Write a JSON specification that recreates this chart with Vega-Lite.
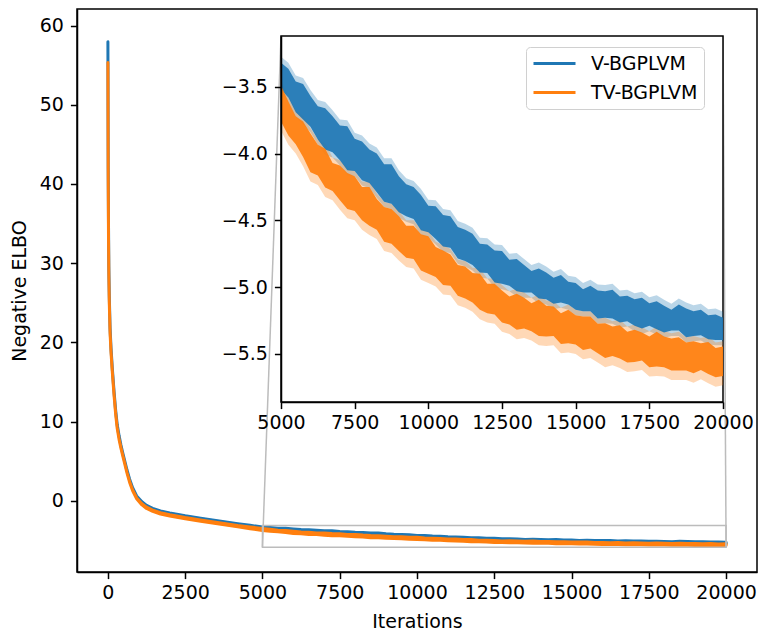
{
"$schema":"https://vega.github.io/schema/vega-lite/v6.json",
"width":680,"height":563,
"autosize":{"type":"none"},
"padding":{"left":77,"top":9,"right":2,"bottom":60},
"config":{"view":{"stroke":"#000","strokeWidth":1.5},"font":"DejaVu Sans",
"axis":{"domainColor":"#000","domainWidth":1.5,"tickColor":"#000","tickWidth":1.5,"tickSize":6.6,"labelFont":"DejaVu Sans","labelFontSize":19,"labelColor":"#000","titleFont":"DejaVu Sans","titleFontSize":19,"titleFontWeight":"normal","titleColor":"#000","grid":false,"labelFlush":false,"labelOverlap":false}},
"data":{"values":[
{"it":0,"model":"V-BGPLVM","dl":57.85,"dh":57.95,"bl":57.6,"bh":58.9},
{"it":5,"model":"V-BGPLVM","dl":48.95,"dh":49.05,"bl":48.8,"bh":49.3},
{"it":10,"model":"V-BGPLVM","dl":41.95,"dh":42.05,"bl":41.8,"bh":42.2},
{"it":20,"model":"V-BGPLVM","dl":34.45,"dh":34.55,"bl":34.3,"bh":34.7},
{"it":30,"model":"V-BGPLVM","dl":29.45,"dh":29.55,"bl":29.3,"bh":29.7},
{"it":45,"model":"V-BGPLVM","dl":25.75,"dh":25.85,"bl":25.6,"bh":26.0},
{"it":70,"model":"V-BGPLVM","dl":21.75,"dh":21.85,"bl":21.6,"bh":22.0},
{"it":100,"model":"V-BGPLVM","dl":19.25,"dh":19.35,"bl":19.1,"bh":19.5},
{"it":140,"model":"V-BGPLVM","dl":16.75,"dh":16.85,"bl":16.6,"bh":17.0},
{"it":200,"model":"V-BGPLVM","dl":13.65,"dh":13.75,"bl":13.5,"bh":13.9},
{"it":250,"model":"V-BGPLVM","dl":11.35,"dh":11.45,"bl":11.2,"bh":11.6},
{"it":300,"model":"V-BGPLVM","dl":9.55,"dh":9.65,"bl":9.4,"bh":9.8},
{"it":360,"model":"V-BGPLVM","dl":8.15,"dh":8.25,"bl":8.0,"bh":8.4},
{"it":420,"model":"V-BGPLVM","dl":6.95,"dh":7.05,"bl":6.8,"bh":7.2},
{"it":480,"model":"V-BGPLVM","dl":5.95,"dh":6.05,"bl":5.8,"bh":6.2},
{"it":550,"model":"V-BGPLVM","dl":4.85,"dh":4.95,"bl":4.7,"bh":5.1},
{"it":620,"model":"V-BGPLVM","dl":3.75,"dh":3.85,"bl":3.6,"bh":4.0},
{"it":700,"model":"V-BGPLVM","dl":2.65,"dh":2.75,"bl":2.5,"bh":2.9},
{"it":800,"model":"V-BGPLVM","dl":1.55,"dh":1.65,"bl":1.4,"bh":1.8},
{"it":930,"model":"V-BGPLVM","dl":0.5,"dh":0.6,"bl":0.35,"bh":0.75},
{"it":1100,"model":"V-BGPLVM","dl":-0.28,"dh":-0.12,"bl":-0.4,"bh":0},
{"it":1250,"model":"V-BGPLVM","dl":-0.74,"dh":-0.58,"bl":-0.86,"bh":-0.46},
{"it":1450,"model":"V-BGPLVM","dl":-1.12,"dh":-0.96,"bl":-1.24,"bh":-0.84},
{"it":1700,"model":"V-BGPLVM","dl":-1.45,"dh":-1.29,"bl":-1.57,"bh":-1.17},
{"it":2000,"model":"V-BGPLVM","dl":-1.71,"dh":-1.55,"bl":-1.83,"bh":-1.43},
{"it":2500,"model":"V-BGPLVM","dl":-2.06,"dh":-1.9,"bl":-2.18,"bh":-1.78},
{"it":3000,"model":"V-BGPLVM","dl":-2.36,"dh":-2.2,"bl":-2.48,"bh":-2.08},
{"it":3600,"model":"V-BGPLVM","dl":-2.71,"dh":-2.55,"bl":-2.83,"bh":-2.43},
{"it":4200,"model":"V-BGPLVM","dl":-3.06,"dh":-2.9,"bl":-3.18,"bh":-2.78},
{"it":4600,"model":"V-BGPLVM","dl":-3.29,"dh":-3.11,"bl":-3.33,"bh":-3.06},
{"it":5000,"model":"V-BGPLVM","dl":-3.52,"dh":-3.32,"bl":-3.56,"bh":-3.275},
{"it":5250,"model":"V-BGPLVM","dl":-3.58,"dh":-3.365,"bl":-3.62,"bh":-3.32},
{"it":5500,"model":"V-BGPLVM","dl":-3.69,"dh":-3.46,"bl":-3.73,"bh":-3.415},
{"it":5750,"model":"V-BGPLVM","dl":-3.745,"dh":-3.48,"bl":-3.785,"bh":-3.435},
{"it":6000,"model":"V-BGPLVM","dl":-3.8,"dh":-3.57,"bl":-3.84,"bh":-3.525},
{"it":6250,"model":"V-BGPLVM","dl":-3.895,"dh":-3.645,"bl":-3.935,"bh":-3.6},
{"it":6500,"model":"V-BGPLVM","dl":-3.97,"dh":-3.66,"bl":-4.01,"bh":-3.615},
{"it":6750,"model":"V-BGPLVM","dl":-3.99,"dh":-3.72,"bl":-4.03,"bh":-3.675},
{"it":7000,"model":"V-BGPLVM","dl":-4.05,"dh":-3.79,"bl":-4.09,"bh":-3.745},
{"it":7250,"model":"V-BGPLVM","dl":-4.125,"dh":-3.795,"bl":-4.165,"bh":-3.75},
{"it":7500,"model":"V-BGPLVM","dl":-4.13,"dh":-3.89,"bl":-4.17,"bh":-3.845},
{"it":7750,"model":"V-BGPLVM","dl":-4.2,"dh":-3.91,"bl":-4.24,"bh":-3.865},
{"it":8000,"model":"V-BGPLVM","dl":-4.22,"dh":-3.97,"bl":-4.26,"bh":-3.925},
{"it":8250,"model":"V-BGPLVM","dl":-4.29,"dh":-4.0,"bl":-4.33,"bh":-3.955},
{"it":8500,"model":"V-BGPLVM","dl":-4.36,"dh":-4.08,"bl":-4.4,"bh":-4.035},
{"it":8750,"model":"V-BGPLVM","dl":-4.375,"dh":-4.08,"bl":-4.415,"bh":-4.035},
{"it":9000,"model":"V-BGPLVM","dl":-4.44,"dh":-4.17,"bl":-4.48,"bh":-4.125},
{"it":9250,"model":"V-BGPLVM","dl":-4.47,"dh":-4.23,"bl":-4.51,"bh":-4.185},
{"it":9500,"model":"V-BGPLVM","dl":-4.49,"dh":-4.25,"bl":-4.53,"bh":-4.205},
{"it":9750,"model":"V-BGPLVM","dl":-4.575,"dh":-4.31,"bl":-4.615,"bh":-4.265},
{"it":10000,"model":"V-BGPLVM","dl":-4.59,"dh":-4.39,"bl":-4.63,"bh":-4.345},
{"it":10250,"model":"V-BGPLVM","dl":-4.64,"dh":-4.395,"bl":-4.68,"bh":-4.35},
{"it":10500,"model":"V-BGPLVM","dl":-4.695,"dh":-4.46,"bl":-4.735,"bh":-4.415},
{"it":10750,"model":"V-BGPLVM","dl":-4.705,"dh":-4.47,"bl":-4.745,"bh":-4.425},
{"it":11000,"model":"V-BGPLVM","dl":-4.785,"dh":-4.55,"bl":-4.825,"bh":-4.505},
{"it":11250,"model":"V-BGPLVM","dl":-4.805,"dh":-4.57,"bl":-4.845,"bh":-4.525},
{"it":11500,"model":"V-BGPLVM","dl":-4.835,"dh":-4.6,"bl":-4.875,"bh":-4.555},
{"it":11750,"model":"V-BGPLVM","dl":-4.89,"dh":-4.675,"bl":-4.93,"bh":-4.63},
{"it":12000,"model":"V-BGPLVM","dl":-4.895,"dh":-4.68,"bl":-4.935,"bh":-4.635},
{"it":12250,"model":"V-BGPLVM","dl":-4.965,"dh":-4.725,"bl":-5.005,"bh":-4.68},
{"it":12500,"model":"V-BGPLVM","dl":-4.975,"dh":-4.73,"bl":-5.015,"bh":-4.685},
{"it":12750,"model":"V-BGPLVM","dl":-4.99,"dh":-4.795,"bl":-5.03,"bh":-4.75},
{"it":13000,"model":"V-BGPLVM","dl":-5.03,"dh":-4.79,"bl":-5.07,"bh":-4.745},
{"it":13250,"model":"V-BGPLVM","dl":-5.04,"dh":-4.835,"bl":-5.08,"bh":-4.79},
{"it":13500,"model":"V-BGPLVM","dl":-5.04,"dh":-4.88,"bl":-5.08,"bh":-4.835},
{"it":13750,"model":"V-BGPLVM","dl":-5.085,"dh":-4.86,"bl":-5.125,"bh":-4.815},
{"it":14000,"model":"V-BGPLVM","dl":-5.09,"dh":-4.89,"bl":-5.13,"bh":-4.845},
{"it":14250,"model":"V-BGPLVM","dl":-5.125,"dh":-4.93,"bl":-5.165,"bh":-4.885},
{"it":14500,"model":"V-BGPLVM","dl":-5.115,"dh":-4.91,"bl":-5.155,"bh":-4.865},
{"it":14750,"model":"V-BGPLVM","dl":-5.13,"dh":-4.96,"bl":-5.17,"bh":-4.915},
{"it":15000,"model":"V-BGPLVM","dl":-5.17,"dh":-4.97,"bl":-5.21,"bh":-4.925},
{"it":15250,"model":"V-BGPLVM","dl":-5.18,"dh":-5.015,"bl":-5.22,"bh":-4.97},
{"it":15500,"model":"V-BGPLVM","dl":-5.18,"dh":-4.99,"bl":-5.22,"bh":-4.945},
{"it":15750,"model":"V-BGPLVM","dl":-5.235,"dh":-5.025,"bl":-5.275,"bh":-4.98},
{"it":16000,"model":"V-BGPLVM","dl":-5.23,"dh":-5.03,"bl":-5.27,"bh":-4.985},
{"it":16250,"model":"V-BGPLVM","dl":-5.235,"dh":-5.02,"bl":-5.275,"bh":-4.975},
{"it":16500,"model":"V-BGPLVM","dl":-5.265,"dh":-5.07,"bl":-5.305,"bh":-5.025},
{"it":16750,"model":"V-BGPLVM","dl":-5.255,"dh":-5.065,"bl":-5.295,"bh":-5.02},
{"it":17000,"model":"V-BGPLVM","dl":-5.29,"dh":-5.09,"bl":-5.33,"bh":-5.045},
{"it":17250,"model":"V-BGPLVM","dl":-5.31,"dh":-5.08,"bl":-5.35,"bh":-5.035},
{"it":17500,"model":"V-BGPLVM","dl":-5.29,"dh":-5.12,"bl":-5.33,"bh":-5.075},
{"it":17750,"model":"V-BGPLVM","dl":-5.315,"dh":-5.105,"bl":-5.355,"bh":-5.06},
{"it":18000,"model":"V-BGPLVM","dl":-5.34,"dh":-5.14,"bl":-5.38,"bh":-5.095},
{"it":18250,"model":"V-BGPLVM","dl":-5.325,"dh":-5.17,"bl":-5.365,"bh":-5.125},
{"it":18500,"model":"V-BGPLVM","dl":-5.325,"dh":-5.13,"bl":-5.365,"bh":-5.085},
{"it":18750,"model":"V-BGPLVM","dl":-5.375,"dh":-5.16,"bl":-5.415,"bh":-5.115},
{"it":19000,"model":"V-BGPLVM","dl":-5.365,"dh":-5.18,"bl":-5.405,"bh":-5.135},
{"it":19250,"model":"V-BGPLVM","dl":-5.36,"dh":-5.17,"bl":-5.4,"bh":-5.125},
{"it":19500,"model":"V-BGPLVM","dl":-5.39,"dh":-5.21,"bl":-5.43,"bh":-5.165},
{"it":19750,"model":"V-BGPLVM","dl":-5.395,"dh":-5.205,"bl":-5.435,"bh":-5.16},
{"it":20000,"model":"V-BGPLVM","dl":-5.395,"dh":-5.23,"bl":-5.435,"bh":-5.185},
{"it":0,"model":"TV-BGPLVM","dl":55.25,"dh":55.35,"bl":55.1,"bh":55.5},
{"it":5,"model":"TV-BGPLVM","dl":46.95,"dh":47.05,"bl":46.8,"bh":47.2},
{"it":10,"model":"TV-BGPLVM","dl":39.95,"dh":40.05,"bl":39.8,"bh":40.2},
{"it":20,"model":"TV-BGPLVM","dl":32.95,"dh":33.05,"bl":32.8,"bh":33.2},
{"it":30,"model":"TV-BGPLVM","dl":28.45,"dh":28.55,"bl":28.3,"bh":28.7},
{"it":45,"model":"TV-BGPLVM","dl":24.95,"dh":25.05,"bl":24.8,"bh":25.2},
{"it":70,"model":"TV-BGPLVM","dl":21.15,"dh":21.25,"bl":21.0,"bh":21.4},
{"it":100,"model":"TV-BGPLVM","dl":18.75,"dh":18.85,"bl":18.6,"bh":19.0},
{"it":140,"model":"TV-BGPLVM","dl":16.35,"dh":16.45,"bl":16.2,"bh":16.6},
{"it":200,"model":"TV-BGPLVM","dl":13.25,"dh":13.35,"bl":13.1,"bh":13.5},
{"it":250,"model":"TV-BGPLVM","dl":10.95,"dh":11.05,"bl":10.8,"bh":11.2},
{"it":300,"model":"TV-BGPLVM","dl":9.15,"dh":9.25,"bl":9.0,"bh":9.4},
{"it":360,"model":"TV-BGPLVM","dl":7.75,"dh":7.85,"bl":7.6,"bh":8.0},
{"it":420,"model":"TV-BGPLVM","dl":6.65,"dh":6.75,"bl":6.5,"bh":6.9},
{"it":480,"model":"TV-BGPLVM","dl":5.65,"dh":5.75,"bl":5.5,"bh":5.9},
{"it":550,"model":"TV-BGPLVM","dl":4.55,"dh":4.65,"bl":4.4,"bh":4.8},
{"it":620,"model":"TV-BGPLVM","dl":3.45,"dh":3.55,"bl":3.3,"bh":3.7},
{"it":700,"model":"TV-BGPLVM","dl":2.35,"dh":2.45,"bl":2.2,"bh":2.6},
{"it":800,"model":"TV-BGPLVM","dl":1.25,"dh":1.35,"bl":1.1,"bh":1.5},
{"it":930,"model":"TV-BGPLVM","dl":0.25,"dh":0.35,"bl":0.1,"bh":0.5},
{"it":1100,"model":"TV-BGPLVM","dl":-0.53,"dh":-0.37,"bl":-0.65,"bh":-0.25},
{"it":1250,"model":"TV-BGPLVM","dl":-0.98,"dh":-0.82,"bl":-1.1,"bh":-0.7},
{"it":1450,"model":"TV-BGPLVM","dl":-1.35,"dh":-1.19,"bl":-1.47,"bh":-1.07},
{"it":1700,"model":"TV-BGPLVM","dl":-1.68,"dh":-1.52,"bl":-1.8,"bh":-1.4},
{"it":2000,"model":"TV-BGPLVM","dl":-1.93,"dh":-1.77,"bl":-2.05,"bh":-1.65},
{"it":2500,"model":"TV-BGPLVM","dl":-2.28,"dh":-2.12,"bl":-2.4,"bh":-2.0},
{"it":3000,"model":"TV-BGPLVM","dl":-2.58,"dh":-2.42,"bl":-2.7,"bh":-2.3},
{"it":3600,"model":"TV-BGPLVM","dl":-2.93,"dh":-2.77,"bl":-3.05,"bh":-2.65},
{"it":4200,"model":"TV-BGPLVM","dl":-3.28,"dh":-3.12,"bl":-3.4,"bh":-3.0},
{"it":4600,"model":"TV-BGPLVM","dl":-3.53,"dh":-3.31,"bl":-3.6,"bh":-3.27},
{"it":5000,"model":"TV-BGPLVM","dl":-3.76,"dh":-3.49,"bl":-3.83,"bh":-3.45},
{"it":5250,"model":"TV-BGPLVM","dl":-3.865,"dh":-3.61,"bl":-3.935,"bh":-3.57},
{"it":5500,"model":"TV-BGPLVM","dl":-3.93,"dh":-3.72,"bl":-4.0,"bh":-3.68},
{"it":5750,"model":"TV-BGPLVM","dl":-4.025,"dh":-3.76,"bl":-4.095,"bh":-3.72},
{"it":6000,"model":"TV-BGPLVM","dl":-4.14,"dh":-3.85,"bl":-4.21,"bh":-3.81},
{"it":6250,"model":"TV-BGPLVM","dl":-4.165,"dh":-3.935,"bl":-4.235,"bh":-3.895},
{"it":6500,"model":"TV-BGPLVM","dl":-4.255,"dh":-3.965,"bl":-4.325,"bh":-3.925},
{"it":6750,"model":"TV-BGPLVM","dl":-4.28,"dh":-4.07,"bl":-4.35,"bh":-4.03},
{"it":7000,"model":"TV-BGPLVM","dl":-4.35,"dh":-4.09,"bl":-4.42,"bh":-4.05},
{"it":7250,"model":"TV-BGPLVM","dl":-4.415,"dh":-4.145,"bl":-4.485,"bh":-4.105},
{"it":7500,"model":"TV-BGPLVM","dl":-4.43,"dh":-4.17,"bl":-4.5,"bh":-4.13},
{"it":7750,"model":"TV-BGPLVM","dl":-4.5,"dh":-4.25,"bl":-4.57,"bh":-4.21},
{"it":8000,"model":"TV-BGPLVM","dl":-4.54,"dh":-4.25,"bl":-4.61,"bh":-4.21},
{"it":8250,"model":"TV-BGPLVM","dl":-4.57,"dh":-4.34,"bl":-4.64,"bh":-4.3},
{"it":8500,"model":"TV-BGPLVM","dl":-4.66,"dh":-4.4,"bl":-4.73,"bh":-4.36},
{"it":8750,"model":"TV-BGPLVM","dl":-4.675,"dh":-4.415,"bl":-4.745,"bh":-4.375},
{"it":9000,"model":"TV-BGPLVM","dl":-4.73,"dh":-4.47,"bl":-4.8,"bh":-4.43},
{"it":9250,"model":"TV-BGPLVM","dl":-4.78,"dh":-4.54,"bl":-4.85,"bh":-4.5},
{"it":9500,"model":"TV-BGPLVM","dl":-4.79,"dh":-4.54,"bl":-4.86,"bh":-4.5},
{"it":9750,"model":"TV-BGPLVM","dl":-4.875,"dh":-4.605,"bl":-4.945,"bh":-4.565},
{"it":10000,"model":"TV-BGPLVM","dl":-4.9,"dh":-4.62,"bl":-4.97,"bh":-4.58},
{"it":10250,"model":"TV-BGPLVM","dl":-4.925,"dh":-4.7,"bl":-4.995,"bh":-4.66},
{"it":10500,"model":"TV-BGPLVM","dl":-4.985,"dh":-4.725,"bl":-5.055,"bh":-4.685},
{"it":10750,"model":"TV-BGPLVM","dl":-4.99,"dh":-4.755,"bl":-5.06,"bh":-4.715},
{"it":11000,"model":"TV-BGPLVM","dl":-5.065,"dh":-4.835,"bl":-5.135,"bh":-4.795},
{"it":11250,"model":"TV-BGPLVM","dl":-5.085,"dh":-4.845,"bl":-5.155,"bh":-4.805},
{"it":11500,"model":"TV-BGPLVM","dl":-5.115,"dh":-4.895,"bl":-5.185,"bh":-4.855},
{"it":11750,"model":"TV-BGPLVM","dl":-5.17,"dh":-4.9,"bl":-5.24,"bh":-4.86},
{"it":12000,"model":"TV-BGPLVM","dl":-5.195,"dh":-4.975,"bl":-5.265,"bh":-4.935},
{"it":12250,"model":"TV-BGPLVM","dl":-5.205,"dh":-4.975,"bl":-5.275,"bh":-4.935},
{"it":12500,"model":"TV-BGPLVM","dl":-5.265,"dh":-5.025,"bl":-5.335,"bh":-4.985},
{"it":12750,"model":"TV-BGPLVM","dl":-5.28,"dh":-5.07,"bl":-5.35,"bh":-5.03},
{"it":13000,"model":"TV-BGPLVM","dl":-5.32,"dh":-5.05,"bl":-5.39,"bh":-5.01},
{"it":13250,"model":"TV-BGPLVM","dl":-5.31,"dh":-5.08,"bl":-5.38,"bh":-5.04},
{"it":13500,"model":"TV-BGPLVM","dl":-5.33,"dh":-5.12,"bl":-5.4,"bh":-5.08},
{"it":13750,"model":"TV-BGPLVM","dl":-5.365,"dh":-5.095,"bl":-5.435,"bh":-5.055},
{"it":14000,"model":"TV-BGPLVM","dl":-5.37,"dh":-5.14,"bl":-5.44,"bh":-5.1},
{"it":14250,"model":"TV-BGPLVM","dl":-5.365,"dh":-5.145,"bl":-5.435,"bh":-5.105},
{"it":14500,"model":"TV-BGPLVM","dl":-5.425,"dh":-5.195,"bl":-5.495,"bh":-5.155},
{"it":14750,"model":"TV-BGPLVM","dl":-5.42,"dh":-5.17,"bl":-5.49,"bh":-5.13},
{"it":15000,"model":"TV-BGPLVM","dl":-5.43,"dh":-5.21,"bl":-5.5,"bh":-5.17},
{"it":15250,"model":"TV-BGPLVM","dl":-5.47,"dh":-5.22,"bl":-5.54,"bh":-5.18},
{"it":15500,"model":"TV-BGPLVM","dl":-5.46,"dh":-5.22,"bl":-5.53,"bh":-5.18},
{"it":15750,"model":"TV-BGPLVM","dl":-5.495,"dh":-5.275,"bl":-5.565,"bh":-5.235},
{"it":16000,"model":"TV-BGPLVM","dl":-5.53,"dh":-5.27,"bl":-5.6,"bh":-5.23},
{"it":16250,"model":"TV-BGPLVM","dl":-5.515,"dh":-5.295,"bl":-5.585,"bh":-5.255},
{"it":16500,"model":"TV-BGPLVM","dl":-5.535,"dh":-5.285,"bl":-5.605,"bh":-5.245},
{"it":16750,"model":"TV-BGPLVM","dl":-5.565,"dh":-5.335,"bl":-5.635,"bh":-5.295},
{"it":17000,"model":"TV-BGPLVM","dl":-5.56,"dh":-5.32,"bl":-5.63,"bh":-5.28},
{"it":17250,"model":"TV-BGPLVM","dl":-5.55,"dh":-5.34,"bl":-5.62,"bh":-5.3},
{"it":17500,"model":"TV-BGPLVM","dl":-5.6,"dh":-5.37,"bl":-5.67,"bh":-5.33},
{"it":17750,"model":"TV-BGPLVM","dl":-5.595,"dh":-5.335,"bl":-5.665,"bh":-5.295},
{"it":18000,"model":"TV-BGPLVM","dl":-5.6,"dh":-5.37,"bl":-5.67,"bh":-5.33},
{"it":18250,"model":"TV-BGPLVM","dl":-5.625,"dh":-5.385,"bl":-5.695,"bh":-5.345},
{"it":18500,"model":"TV-BGPLVM","dl":-5.625,"dh":-5.375,"bl":-5.695,"bh":-5.335},
{"it":18750,"model":"TV-BGPLVM","dl":-5.625,"dh":-5.415,"bl":-5.695,"bh":-5.375},
{"it":19000,"model":"TV-BGPLVM","dl":-5.645,"dh":-5.405,"bl":-5.715,"bh":-5.365},
{"it":19250,"model":"TV-BGPLVM","dl":-5.62,"dh":-5.42,"bl":-5.69,"bh":-5.38},
{"it":19500,"model":"TV-BGPLVM","dl":-5.65,"dh":-5.41,"bl":-5.72,"bh":-5.37},
{"it":19750,"model":"TV-BGPLVM","dl":-5.675,"dh":-5.455,"bl":-5.745,"bh":-5.415},
{"it":20000,"model":"TV-BGPLVM","dl":-5.665,"dh":-5.445,"bl":-5.735,"bh":-5.405}
]},
"layer":[
{"layer":[
{"mark":{"type":"area","fillOpacity":0.3},
 "encoding":{
  "x":{"field":"it","type":"quantitative","scale":{"domain":[-1000,21000],"nice":false,"zero":false},"axis":{"orient":"bottom","values":[0,2500,5000,7500,10000,12500,15000,17500,20000],"format":"d","title":"Iterations","labelPadding":5,"titlePadding":10}},
  "y":{"field":"bl","type":"quantitative","scale":{"domain":[-9,62.1],"nice":false,"zero":false},"axis":{"orient":"left","values":[0,10,20,30,40,50,60],"format":"d","title":"Negative ELBO","labelPadding":7,"titlePadding":10}},
  "y2":{"field":"bh"},
  "fill":{"field":"model","type":"nominal","scale":{"domain":["V-BGPLVM","TV-BGPLVM"],"range":["#1f77b4","#ff7f0e"]}}}},
{"mark":{"type":"area","strokeWidth":3,"strokeJoin":"round"},
 "encoding":{
  "x":{"field":"it","type":"quantitative","scale":{"domain":[-1000,21000],"nice":false,"zero":false}},
  "y":{"field":"dl","type":"quantitative","scale":{"domain":[-9,62.1],"nice":false,"zero":false}},
  "y2":{"field":"dh"},
  "fill":{"field":"model","type":"nominal","scale":{"domain":["V-BGPLVM","TV-BGPLVM"],"range":["#1f77b4","#ff7f0e"]}},
  "stroke":{"field":"model","type":"nominal","scale":{"domain":["V-BGPLVM","TV-BGPLVM"],"range":["#1f77b4","#ff7f0e"]},
   "legend":{"orient":"none","legendX":449,"legendY":38,"title":null,"zindex":2,"symbolType":"stroke","symbolSize":1764,"symbolStrokeWidth":2.85,"symbolOpacity":1,"labelFontSize":19,"labelFont":"DejaVu Sans","labelColor":"#000","labelOffset":14,"padding":6,"rowPadding":8,"clipHeight":21,"fillColor":"rgba(255,255,255,0.8)","strokeColor":"#d0d0d0","cornerRadius":4}}}},
{"data":{"values":[{"x1":5000,"x2":20000,"y1":-5.86,"y2":-3.12}]},
 "mark":{"type":"rect","filled":false,"stroke":"#bcbcbc","strokeWidth":1.5},
 "encoding":{
  "x":{"field":"x1","type":"quantitative","scale":{"domain":[-1000,21000],"nice":false,"zero":false}},
  "x2":{"field":"x2"},
  "y":{"field":"y1","type":"quantitative","scale":{"domain":[-9,62.1],"nice":false,"zero":false}},
  "y2":{"field":"y2"}}},
{"data":{"values":[{"ax":5000,"ay":-5.86,"bx":5600,"by":58.69},{"ax":20000,"ay":-5.86,"bx":19900,"by":58.69}]},
 "mark":{"type":"rule","stroke":"#bcbcbc","strokeWidth":1.5},
 "encoding":{
  "x":{"field":"ax","type":"quantitative","scale":{"domain":[-1000,21000],"nice":false,"zero":false}},
  "x2":{"field":"bx"},
  "y":{"field":"ay","type":"quantitative","scale":{"domain":[-9,62.1],"nice":false,"zero":false}},
  "y2":{"field":"by"}}}
]},
{"layer":[
{"data":{"values":[{"x1":5000,"x2":20000,"y1":-5.86,"y2":-3.12}]},
 "mark":{"type":"rect","fill":"#ffffff","stroke":"#000","strokeWidth":1.5},
 "encoding":{
  "x":{"field":"x1","type":"quantitative","scale":{"domain":[5000,20000],"range":[204,646],"nice":false,"zero":false},"axis":{"orient":"bottom","offset":-170,"zindex":1,"values":[5000,7500,10000,12500,15000,17500,20000],"format":"d","title":null,"labelPadding":5}},
  "x2":{"field":"x2"},
  "y":{"field":"y1","type":"quantitative","scale":{"domain":[-5.86,-3.12],"range":[393,27],"nice":false,"zero":false},"axis":{"orient":"left","offset":-204,"zindex":1,"values":[-5.5,-5,-4.5,-4,-3.5],"format":".1f","title":null,"labelPadding":7}},
  "y2":{"field":"y2"}}},
{"transform":[{"filter":"datum.it >= 5000"}],
 "mark":{"type":"area","fillOpacity":0.3},
 "encoding":{
  "x":{"field":"it","type":"quantitative","scale":{"domain":[5000,20000],"range":[204,646],"nice":false,"zero":false}},
  "y":{"field":"bl","type":"quantitative","scale":{"domain":[-5.86,-3.12],"range":[393,27],"nice":false,"zero":false}},
  "y2":{"field":"bh"},
  "fill":{"field":"model","type":"nominal","scale":{"domain":["V-BGPLVM","TV-BGPLVM"],"range":["#1f77b4","#ff7f0e"]}}}},
{"transform":[{"filter":"datum.it >= 5000"}],
 "mark":{"type":"area","fillOpacity":0.92},
 "encoding":{
  "x":{"field":"it","type":"quantitative","scale":{"domain":[5000,20000],"range":[204,646],"nice":false,"zero":false}},
  "y":{"field":"dl","type":"quantitative","scale":{"domain":[-5.86,-3.12],"range":[393,27],"nice":false,"zero":false}},
  "y2":{"field":"dh"},
  "fill":{"field":"model","type":"nominal","scale":{"domain":["V-BGPLVM","TV-BGPLVM"],"range":["#1f77b4","#ff7f0e"]}}}}
]}
],
"resolve":{"scale":{"x":"independent","y":"independent"},"axis":{"x":"independent","y":"independent"}}
}
